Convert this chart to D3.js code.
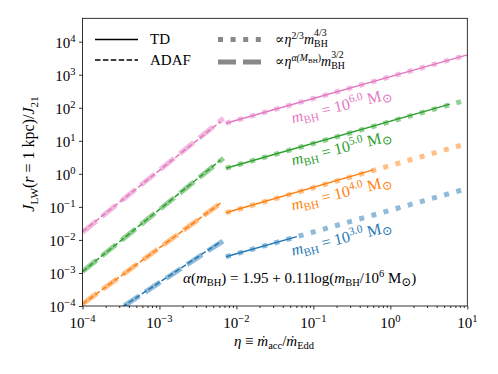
<!DOCTYPE html>
<html>
<head>
<meta charset="utf-8">
<script src="https://cdn.jsdelivr.net/npm/d3@7"></script>
<style>
  body { margin: 0; background: #fff; }
  svg text { font-family: 'Liberation Serif', 'DejaVu Serif', serif; fill: #000; }
</style>
</head>
<body>
<div id="viz"></div>
<script>
// --- data ---
const logM = [3, 4, 5, 6];
const colors = ["#1f77b4", "#ff7f0e", "#2ca02c", "#e377c2"];

// ADAF model (dark dashed)
const adafEta = [1e-4, 6.2e-3];
const adafJ = [[1.5e-5, 8.7e-3], [1.15e-4, 0.129], [1.1e-3, 2.6], [1.78e-2, 38]];
// ADAF fit  ∝ η^α m^{3/2} (pale dashed)
const fitAdafEta = [1e-4, 6.8e-3];
const fitAdafJ = [[1.5e-5, 9.5e-3], [1.15e-4, 0.15], [1.1e-3, 3.0], [1.7e-2, 48]];
// thin disc model (dark solid)
const tdEtaStart = 7.3e-3;
const tdEtaEnd = [0.061, 0.6, 5.96, 10];
const tdJ = [[0.0031, 0.0126], [0.066, 1.32], [1.48, 129], [33.9, 3980]];
// TD fit ∝ η^{2/3} m^{4/3} (pale dotted)
const fitTdEta = [7.3e-3, 10];
const fitTdJ = [[0.0031, 0.36], [0.066, 8.3], [1.48, 174], [33.9, 3980]];

// label anchors
const labelEta = 0.054;
const labelJ = [0.0033, 0.078, 1.8, 34];

const xTickExp = [-4, -3, -2, -1, 0, 1];
const yTickExp = [-4, -3, -2, -1, 0, 1, 2, 3, 4];

const w = 498, h = 374;
const mLeft = 82.5, mRight = 467.3, mTop = 18.3, mBottom = 306;

const svg = d3.select("#viz").append("svg")
  .attr("width", w).attr("height", h)
  .attr("viewBox", "0 0 " + w + " " + h);

const x = d3.scaleLog().domain([1e-4, 10]).range([mLeft, mRight]);
const y = d3.scaleLog().domain([1e-4, 5.1e4]).range([mBottom, mTop]);

// rich text: flags i=italic, b=sub, p=sup, q=sub inside sup, o=odot sub, k=sup stacked over previous sub
const rich = function (parent, parts, size) {
  const t = parent.append("text").attr("font-size", size).style("white-space", "pre");
  let cur = 0, prev = null;
  parts.forEach(([s, f = ""]) => {
    let lv = 0, fs = 1;
    if (f.includes("p")) { lv = -0.38; fs = 0.7; }
    if (f.includes("k")) { lv = -0.56; fs = 0.7; }
    if (f.includes("b")) { lv = 0.22; fs = 0.7; }
    if (f.includes("q")) { lv = -0.22; fs = 0.5; }
    if (f.includes("o")) { lv = 0.18; fs = 0.8; }
    const ts = t.append("tspan").text(s)
      .attr("font-size", size * fs)
      .attr("font-style", f.includes("i") ? "italic" : "normal")
      .attr("dy", (lv - cur) * size);
    if (f.includes("k") && prev) ts.attr("dx", -prev.node().getComputedTextLength());
    cur = lv; prev = ts;
  });
  return t;
};

svg.append("clipPath").attr("id", "clip")
  .append("rect").attr("x", mLeft).attr("y", mTop)
  .attr("width", mRight - mLeft).attr("height", mBottom - mTop);

const plot = svg.append("g").attr("clip-path", "url(#clip)");
const line = d3.line().x(d => x(d[0])).y(d => y(d[1]));

// pale fits
logM.forEach((m, i) => {
  plot.append("path")
    .attr("d", line(fitAdafEta.map((e, k) => [e, fitAdafJ[i][k]])))
    .attr("fill", "none").attr("stroke", colors[i]).attr("stroke-opacity", 0.5)
    .attr("stroke-width", 5).attr("stroke-dasharray", "18,7");
  plot.append("path")
    .attr("d", line(fitTdEta.map((e, k) => [e, fitTdJ[i][k]])))
    .attr("fill", "none").attr("stroke", colors[i]).attr("stroke-opacity", 0.5)
    .attr("stroke-width", 5).attr("stroke-dasharray", "5,7.6");
});

// models
logM.forEach((m, i) => {
  plot.append("path")
    .attr("d", line(adafEta.map((e, k) => [e, adafJ[i][k]])))
    .attr("fill", "none").attr("stroke", colors[i])
    .attr("stroke-width", 1.5).attr("stroke-dasharray", "5.5,2.4");
  plot.append("path")
    .attr("d", line([[tdEtaStart, tdJ[i][0]], [tdEtaEnd[i], tdJ[i][1]]]))
    .attr("fill", "none").attr("stroke", colors[i])
    .attr("stroke-width", 1.5);
});

// mass labels
logM.forEach((m, i) => {
  const g = svg.append("g")
    .attr("transform", "translate(" + x(labelEta) + "," + y(labelJ[i]) + ") rotate(-14)");
  rich(g, [["m", "i"], ["BH", "b"], [" = 10"], [m.toFixed(1), "p"], [" M"], ["\u2299", "o"]], 16)
    .style("fill", colors[i]);
});

// axes
const xAxis = svg.append("g").attr("transform", "translate(0," + mBottom + ")")
  .call(d3.axisBottom(x).tickValues(xTickExp.map(e => Math.pow(10, e))).tickSize(3.5).tickFormat(""));
const minor = [];
xTickExp.slice(0, -1).forEach(e => { for (let k = 2; k < 10; k++) minor.push(k * Math.pow(10, e)); });
const xMinor = svg.append("g").attr("transform", "translate(0," + mBottom + ")")
  .call(d3.axisBottom(x).tickValues(minor).tickSize(2).tickFormat(""));
const yAxis = svg.append("g").attr("transform", "translate(" + mLeft + ",0)")
  .call(d3.axisLeft(y).tickValues(yTickExp.map(e => Math.pow(10, e))).tickSize(3.5).tickFormat(""));
[xAxis, xMinor, yAxis].forEach(a => {
  a.select(".domain").remove();
  a.selectAll("line").attr("stroke", "#000").attr("stroke-width", 0.8);
});

xTickExp.forEach(e => {
  rich(svg, [["10"], [e < 0 ? "\u2212" + (-e) : String(e), "p"]], 15)
    .attr("x", x(Math.pow(10, e))).attr("y", mBottom + 22).attr("text-anchor", "middle");
});
yTickExp.forEach(e => {
  rich(svg, [["10"], [e < 0 ? "\u2212" + (-e) : String(e), "p"]], 15)
    .attr("x", mLeft - 7).attr("y", y(Math.pow(10, e)) + 6).attr("text-anchor", "end");
});

// frame
svg.append("rect").attr("x", mLeft).attr("y", mTop)
  .attr("width", mRight - mLeft).attr("height", mBottom - mTop)
  .attr("fill", "none").attr("stroke", "#000").attr("stroke-width", 0.8);

// axis labels
rich(svg, [["\u03B7", "i"], [" \u2261 "], ["\u1E41", "i"], ["acc", "b"], ["/"], ["\u1E41", "i"], ["Edd", "b"]], 15)
  .attr("x", 274).attr("y", 346).attr("text-anchor", "middle");
rich(svg.append("g").attr("transform", "translate(34,154) rotate(-90)"),
  [["J", "i"], ["LW", "b"], ["("], ["r", "i"], [" = 1 kpc)/"], ["J", "i"], ["21", "b"]], 16)
  .attr("text-anchor", "middle");

// annotation
rich(svg, [["\u03B1", "i"], ["("], ["m", "i"], ["BH", "b"], [") = 1.95 + 0.11log("], ["m", "i"], ["BH", "b"],
  ["/10"], ["6", "p"], [" M"], ["\u2299", "o"], [")"]], 15)
  .attr("x", 183).attr("y", 283);

// legend
const lg = svg.append("g");
lg.append("line").attr("x1", 95).attr("x2", 138).attr("y1", 39.5).attr("y2", 39.5)
  .attr("stroke", "#000").attr("stroke-width", 1.5);
lg.append("line").attr("x1", 95).attr("x2", 138).attr("y1", 60).attr("y2", 60)
  .attr("stroke", "#000").attr("stroke-width", 1.5).attr("stroke-dasharray", "5.5,2.4");
lg.append("line").attr("x1", 218).attr("x2", 262).attr("y1", 39.5).attr("y2", 39.5)
  .attr("stroke", "#888").attr("stroke-width", 5).attr("stroke-dasharray", "5,7.6");
lg.append("line").attr("x1", 218).attr("x2", 262).attr("y1", 62).attr("y2", 62)
  .attr("stroke", "#888").attr("stroke-width", 5).attr("stroke-dasharray", "18,7");
rich(lg, [["TD"]], 15).attr("x", 150).attr("y", 44);
rich(lg, [["ADAF"]], 15).attr("x", 150).attr("y", 65);
rich(lg, [["\u221D", "s"], ["\u03B7", "i"], ["2/3", "p"], ["m", "i"], ["BH", "b"], ["4/3", "k"]], 14)
  .attr("x", 275).attr("y", 44);
rich(lg, [["\u221D", "s"], ["\u03B7", "i"], ["\u03B1(", "pi"], ["M", "pi"], ["BH", "q"], [")", "p"],
  ["m", "i"], ["BH", "b"], ["3/2", "k"]], 14)
  .attr("x", 275).attr("y", 66);
</script>
</body>
</html>
